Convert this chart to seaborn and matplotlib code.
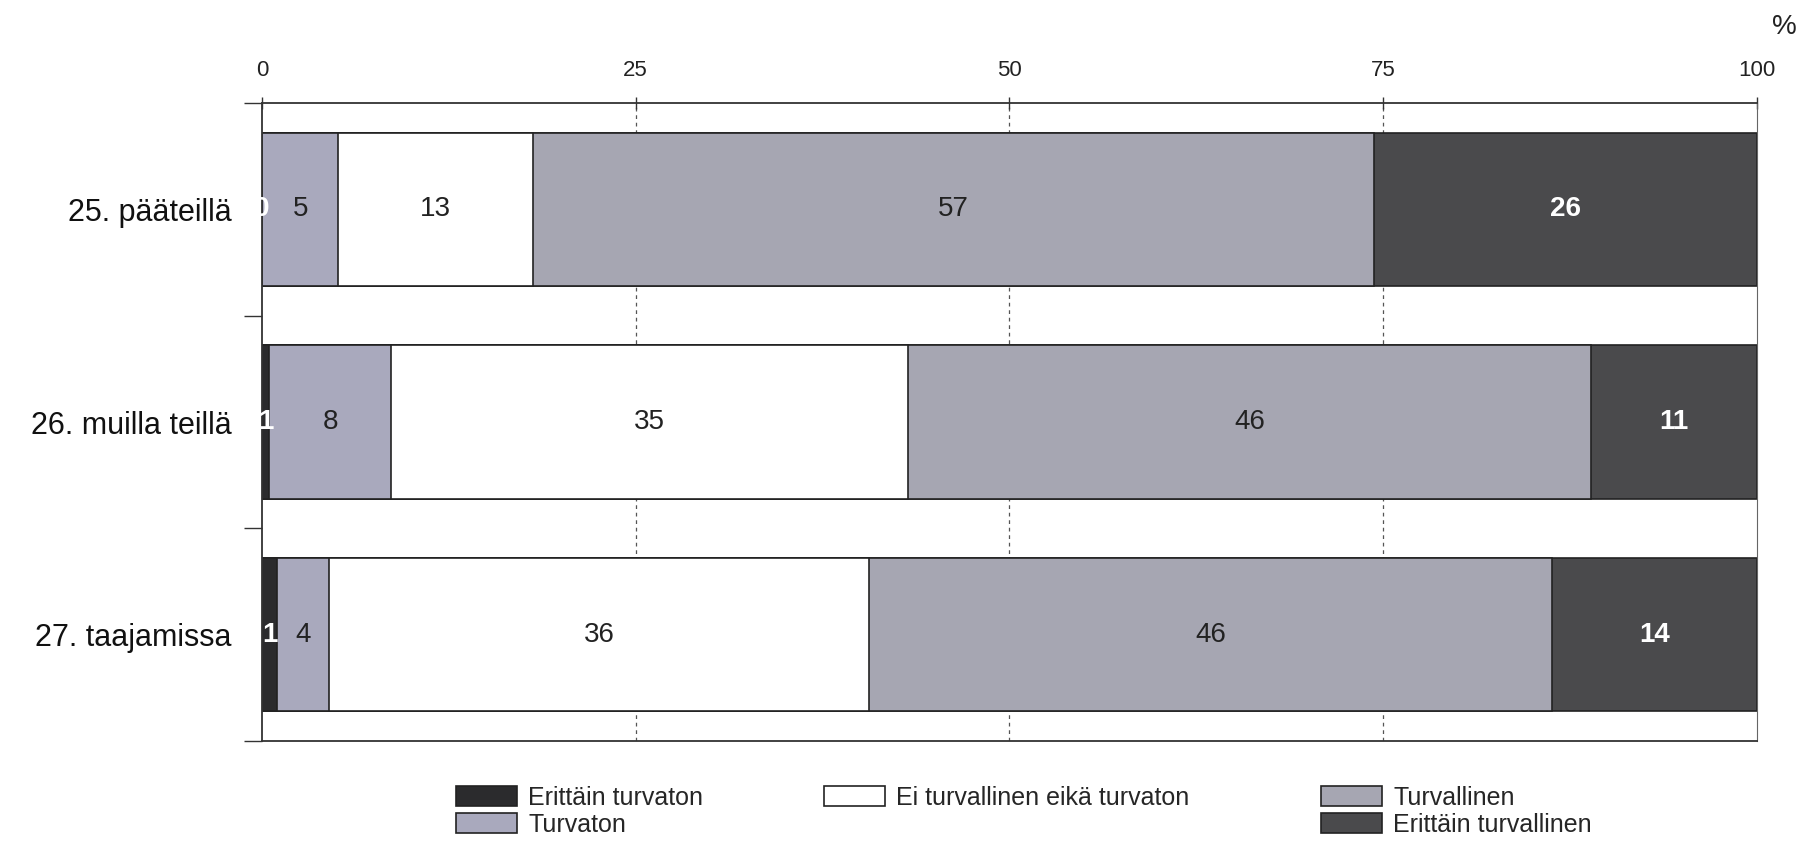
import numpy as np
import pandas as pd
import matplotlib
matplotlib.use('Agg')
import matplotlib.pyplot as plt
from matplotlib.patches import Patch
import seaborn as sns

# --- Data ---
CATEGORIES = ["25. pääteillä", "26. muilla teillä", "27. taajamissa"]
SERIES = ["Erittäin turvaton", "Turvaton", "Ei turvallinen eikä turvaton",
          "Turvallinen", "Erittäin turvallinen"]

eritt_turvaton = [0.0, 0.5, 1.0]
turvaton = [5.1, 8.1, 3.5]
ei_kumpikaan = [13.0, 34.6, 36.1]
turvallinen = [56.3, 45.7, 45.7]
eritt_turvallinen = [25.6, 11.1, 13.7]

# printed values on the bars
labels_eritt_turvaton = ["0", "1", "1"]
labels_turvaton = ["5", "8", "4"]
labels_ei = ["13", "35", "36"]
labels_turvallinen = ["57", "46", "46"]
labels_eritt_turvallinen = ["26", "11", "14"]

X_TICKS = [0, 25, 50, 75, 100]

# --- Style ---
COLORS = ["#2b2b2d", "#a9a9bd", "#ffffff", "#a6a6b2", "#4a4a4c"]
TEXT_COLORS = ["white", "#222222", "#222222", "#222222", "white"]
TEXT_WEIGHTS = ["bold", "normal", "normal", "normal", "bold"]

sns.set_theme(style="white")
plt.rcParams['font.family'] = ['Liberation Sans', 'DejaVu Sans']

values = [eritt_turvaton, turvaton, ei_kumpikaan, turvallinen, eritt_turvallinen]
labels = [labels_eritt_turvaton, labels_turvaton, labels_ei,
          labels_turvallinen, labels_eritt_turvallinen]

cum = np.cumsum(np.array(values), axis=0)  # shape (series, categories)
starts = cum - np.array(values)

fig = plt.figure(figsize=(18.02, 8.48), dpi=100)
ax = fig.add_axes([0.1454, 0.1262, 0.8296, 0.7523])

# stacked bars: draw cumulative totals from the outermost segment inward
for i in reversed(range(len(SERIES))):
    df = pd.DataFrame({"kategoria": CATEGORIES, "kumul": cum[i]})
    sns.barplot(data=df, x="kumul", y="kategoria", orient="h",
                color=COLORS[i], saturation=1, width=0.72,
                edgecolor="#222222", linewidth=1.2, ax=ax, zorder=2)

# value labels in the middle of each segment
for i in range(len(SERIES)):
    for j in range(len(CATEGORIES)):
        xc = starts[i, j] + values[i][j] / 2
        ax.text(xc, j, labels[i][j], ha="center", va="center",
                fontsize=20, color=TEXT_COLORS[i], fontweight=TEXT_WEIGHTS[i],
                zorder=5)

ax.set_xlim(0, 100)
ax.set_ylim(2.5, -0.5)
ax.set_xlabel("")
ax.set_ylabel("")

# x axis on top
ax.xaxis.tick_top()
ax.set_xticks(X_TICKS)
ax.set_xticklabels([str(t) for t in X_TICKS], fontsize=16, color="#222222")
ax.tick_params(axis="x", direction="inout", length=8, width=1,
               color="#333333", pad=12)

# category labels with boundary ticks on the left
ax.set_yticks(range(len(CATEGORIES)))
ax.set_yticklabels(CATEGORIES, fontsize=22, color="#111111")
ax.set_yticks([-0.5, 0.5, 1.5, 2.5], minor=True)
ax.tick_params(axis="y", which="major", length=0, pad=22)
ax.tick_params(axis="y", which="minor", direction="out", length=13,
               width=1, color="#333333", left=True)

for gx in [25, 50, 75]:
    ax.axvline(gx, color="#555555", linestyle=(0, (3, 3)), linewidth=0.9,
               zorder=0)

for side in ["top", "bottom", "left"]:
    ax.spines[side].set_visible(True)
    ax.spines[side].set_color("#333333")
    ax.spines[side].set_linewidth(1.3)
ax.spines["right"].set_visible(True)
ax.spines["right"].set_color("#666666")
ax.spines["right"].set_linewidth(0.8)

fig.text(0.997, 0.968, "%", fontsize=20, ha="right", va="center",
         color="#222222")

# legend: three columns placed like the original
handles = [Patch(facecolor=c, edgecolor="#222222", linewidth=1.2) for c in COLORS]
legend_cols = [
    ([handles[0], handles[1]], [SERIES[0], SERIES[1]], 0.253),
    ([handles[2]], [SERIES[2]], 0.457),
    ([handles[3], handles[4]], [SERIES[3], SERIES[4]], 0.733),
]
for hs, ls, lx in legend_cols:
    fig.legend(hs, ls, loc="upper left", bbox_to_anchor=(lx, 0.073),
               frameon=False, fontsize=18, handlelength=2.45, handleheight=0.85,
               handletextpad=0.45, labelspacing=0.12, borderpad=0,
               borderaxespad=0)

fig.savefig("out.png", dpi=100)
